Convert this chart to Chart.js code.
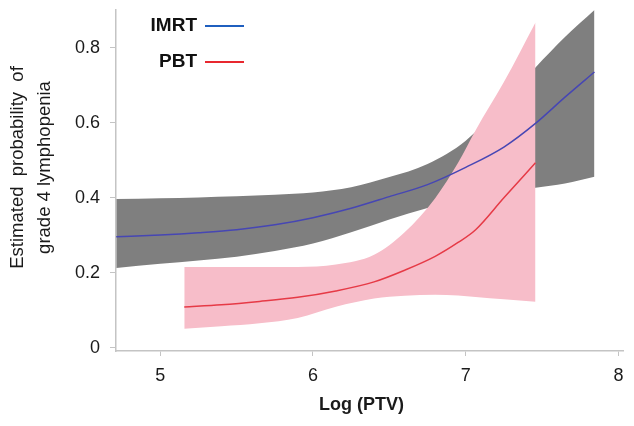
<!DOCTYPE html>
<html>
<head>
<meta charset="utf-8">
<script src="https://cdn.jsdelivr.net/npm/chart.js@4"></script>
<style>
  html, body { margin: 0; padding: 0; background: #fff; }
  #wrap { width: 634px; height: 426px; }
</style>
</head>
<body>
<div id="wrap"><canvas id="chart"></canvas></div>
<script>
// values
const xTicks = [5, 6, 7, 8];
const yTicks = [0, 0.2, 0.4, 0.6, 0.8];

const imrtX     = [4.712, 5.0, 5.25, 5.5, 5.75, 6.0, 6.25, 6.5, 6.75, 7.0, 7.25, 7.457, 7.65, 7.843];
const imrtMean  = [0.296, 0.301, 0.307, 0.315, 0.328, 0.347, 0.372, 0.403, 0.435, 0.481, 0.535, 0.598, 0.668, 0.735];
const imrtUpper = [0.397, 0.399, 0.401, 0.404, 0.408, 0.414, 0.428, 0.455, 0.490, 0.552, 0.655, 0.747, 0.828, 0.900];
const imrtLower = [0.213, 0.224, 0.233, 0.243, 0.258, 0.278, 0.308, 0.342, 0.373, 0.398, 0.415, 0.427, 0.438, 0.456];

const pbtX     = [5.157, 5.4, 5.65, 5.9, 6.15, 6.4, 6.6, 6.8, 6.95, 7.065, 7.25, 7.457];
const pbtMean  = [0.109, 0.115, 0.124, 0.135, 0.152, 0.176, 0.207, 0.244, 0.281, 0.315, 0.400, 0.493];
const pbtUpper = [0.216, 0.216, 0.216, 0.216, 0.222, 0.248, 0.308, 0.399, 0.493, 0.580, 0.708, 0.867];
const pbtLower = [0.051, 0.058, 0.066, 0.080, 0.110, 0.132, 0.139, 0.142, 0.140, 0.136, 0.130, 0.123];

const seriesNames = ['IMRT', 'PBT'];
const xTitle = 'Log (PTV)';
const yTitle = ['Estimated  probability  of', 'grade 4 lymphopenia'];

const FONT = '"Liberation Sans", Arial, sans-serif';
const blue = '#4646b4';
const red = '#e63a46';
const pink = '#f7bdc9';
const grey = '#7f7f7f';

function pts(xs, ys) {
  return xs.map((x, i) => ({ x: x, y: ys[i] }));
}

// legend in the top left of the plot, label then a short line
const lineLegend = {
  id: 'lineLegend',
  afterDraw(chart) {
    const ctx = chart.ctx;
    const a = chart.chartArea;
    const items = [
      { label: seriesNames[0], color: '#1f5fbf' },
      { label: seriesNames[1], color: '#e8282f' }
    ];
    ctx.save();
    ctx.font = 'bold 19px ' + FONT;
    ctx.textAlign = 'right';
    ctx.textBaseline = 'middle';
    items.forEach((it, i) => {
      const y = a.top + 16 + i * 36;
      ctx.fillStyle = '#111';
      ctx.fillText(it.label, a.left + 81, y);
      ctx.strokeStyle = it.color;
      ctx.lineWidth = 2;
      ctx.beginPath();
      ctx.moveTo(a.left + 89, y);
      ctx.lineTo(a.left + 128, y);
      ctx.stroke();
    });
    ctx.restore();
  }
};

// axis titles, sat a little off the plot centre like in the original
const axisTitles = {
  id: 'axisTitles',
  afterDraw(chart) {
    const ctx = chart.ctx;
    const a = chart.chartArea;
    ctx.save();
    ctx.fillStyle = '#1a1a1a';
    ctx.textAlign = 'center';
    ctx.textBaseline = 'middle';
    ctx.font = 'bold 18px ' + FONT;
    ctx.fillText(xTitle, (a.left + a.right) / 2 - 8, 405);
    ctx.font = '18.5px ' + FONT;
    ctx.translate(0, (a.top + a.bottom) / 2 - 13);
    ctx.rotate(-Math.PI / 2);
    yTitle.forEach((line, i) => ctx.fillText(line, 0, 18 + i * 27));
    ctx.restore();
  }
};

const band = { pointRadius: 0, borderWidth: 0, cubicInterpolationMode: 'monotone' };

const chart = new Chart(document.getElementById('chart'), {
  type: 'line',
  data: {
    datasets: [
      { label: 'IMRT', data: pts(imrtX, imrtMean), borderColor: blue, borderWidth: 1.5, pointRadius: 0, fill: false, cubicInterpolationMode: 'monotone' },
      { label: 'PBT', data: pts(pbtX, pbtMean), borderColor: red, borderWidth: 1.5, pointRadius: 0, fill: false, cubicInterpolationMode: 'monotone' },
      Object.assign({ label: 'PBT upper', data: pts(pbtX, pbtUpper), borderColor: pink, backgroundColor: pink, fill: '+1' }, band),
      Object.assign({ label: 'PBT lower', data: pts(pbtX, pbtLower), borderColor: pink, fill: false }, band),
      Object.assign({ label: 'IMRT upper', data: pts(imrtX, imrtUpper), borderColor: grey, backgroundColor: grey, fill: '+1' }, band),
      Object.assign({ label: 'IMRT lower', data: pts(imrtX, imrtLower), borderColor: grey, fill: false }, band)
    ]
  },
  options: {
    responsive: true,
    maintainAspectRatio: false,
    animation: false,
    layout: { padding: { left: 0, right: 11, top: 0, bottom: 0 } },
    plugins: {
      legend: { display: false },
      tooltip: { enabled: false }
    },
    scales: {
      x: {
        type: 'linear',
        min: 4.71,
        max: 8.03,
        afterBuildTicks: s => { s.ticks = xTicks.map(v => ({ value: v })); },
        afterFit: s => { s.height = 75; },
        grid: { display: true, drawOnChartArea: false, drawTicks: true, tickLength: 5, color: '#c4c4c4' },
        border: { color: '#c4c4c4', width: 1.5 },
        ticks: { color: '#1a1a1a', font: { family: FONT, size: 18 }, padding: 9, maxRotation: 0 },
        title: { display: false }
      },
      y: {
        min: -0.008,
        max: 0.9,
        afterBuildTicks: s => { s.ticks = yTicks.map(v => ({ value: v })); },
        afterFit: s => { s.width = 116; s.paddingTop = 10; s.paddingBottom = 0; },
        grid: { display: true, drawOnChartArea: false, drawTicks: true, tickLength: 6, color: '#c4c4c4' },
        border: { color: '#c4c4c4', width: 1.5 },
        ticks: { color: '#1a1a1a', font: { family: FONT, size: 18 }, padding: 10, callback: v => String(+v.toFixed(1)) },
        title: { display: false }
      }
    }
  },
  plugins: [lineLegend, axisTitles]
});
</script>
</body>
</html>
